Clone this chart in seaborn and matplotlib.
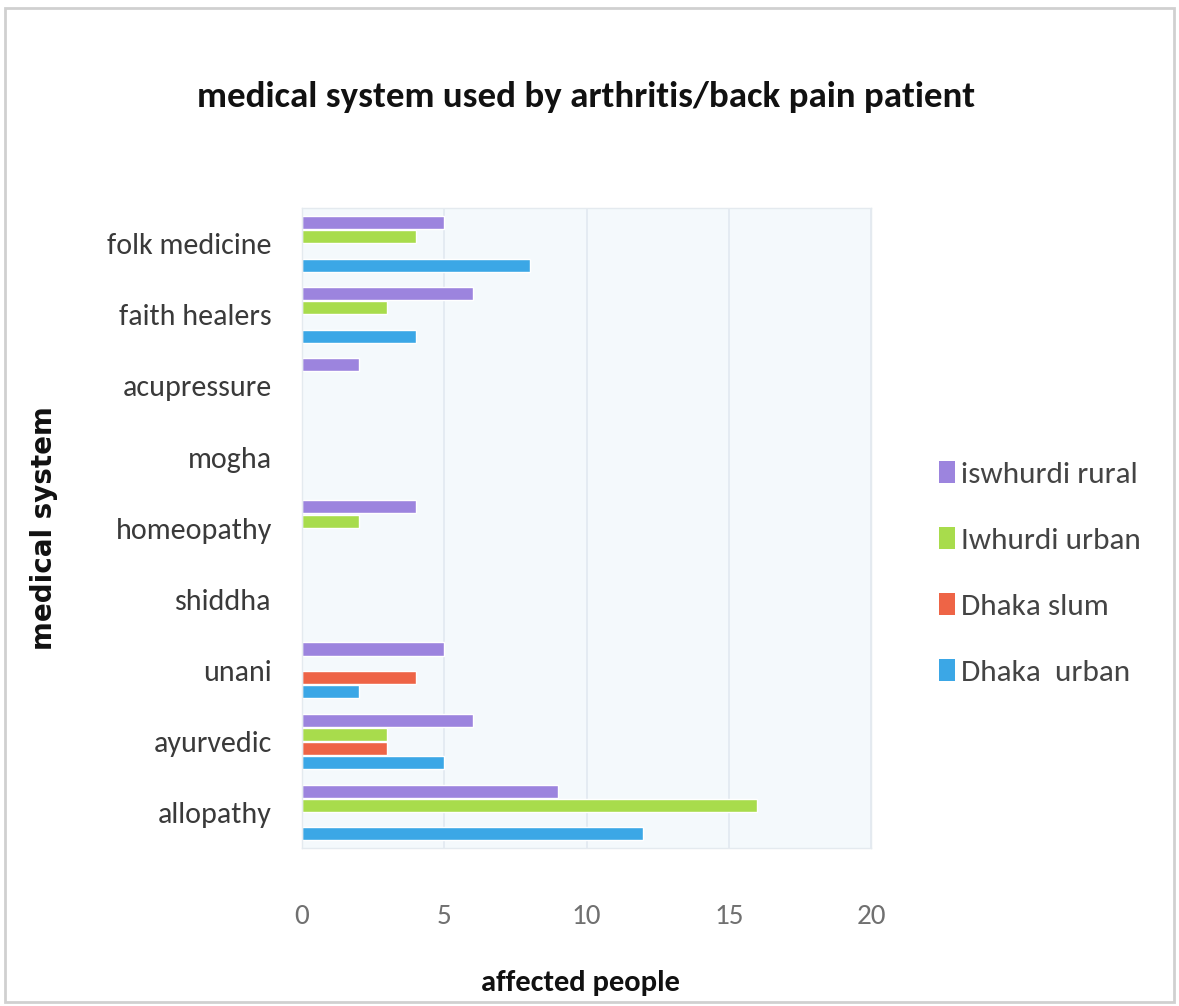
import matplotlib
matplotlib.use("Agg")
import matplotlib.pyplot as plt
from matplotlib.patches import Rectangle
import seaborn as sns
import pandas as pd

categories = ["folk medicine", "faith healers", "acupressure", "mogha",
              "homeopathy", "shiddha", "unani", "ayurvedic", "allopathy"]
series = ["iswhurdi rural", "Iwhurdi urban", "Dhaka slum", "Dhaka  urban"]
iswhurdi_rural = [5, 6, 2, 0, 4, 0, 5, 6, 9]
iwhurdi_urban = [4, 3, 0, 0, 2, 0, 0, 3, 16]
dhaka_slum = [0, 0, 0, 0, 0, 0, 4, 3, 0]
dhaka_urban = [8, 4, 0, 0, 0, 0, 2, 5, 12]
x_ticks = [0, 5, 10, 15, 20]

colors = ["#9c84de", "#a8dc4c", "#ee6446", "#3ba7e6"]

rows = []
for name, vals in zip(series, [iswhurdi_rural, iwhurdi_urban, dhaka_slum, dhaka_urban]):
    for cat, v in zip(categories, vals):
        rows.append({"system": cat, "group": name, "people": v})
df = pd.DataFrame(rows)

sns.set_theme(style="white")
plt.rcParams["font.family"] = ["Carlito", "DejaVu Sans"]

fig = plt.figure(figsize=(11.79, 10.06), dpi=100)
fig.patches.append(Rectangle((0.004, 0.004), 0.992, 0.988, transform=fig.transFigure,
                             fill=False, edgecolor="#d0d0d0", linewidth=2))
ax = fig.add_axes([0.256, 0.157, 0.483, 0.636])
ax.set_facecolor("#f4f9fc")

sns.barplot(data=df, y="system", x="people", hue="group", order=categories,
            hue_order=series, palette=colors, orient="h", width=0.8, gap=0.08,
            saturation=1, ax=ax, legend=False)

ax.set_xlim(0, 20)
ax.set_xticks(x_ticks)
ax.set_xticklabels([str(t) for t in x_ticks], fontsize=21, color="#707070")
ax.tick_params(axis="y", labelsize=21.6, labelcolor="#3a3a3a", length=0, pad=21.5)
ax.tick_params(axis="x", length=0, pad=40)
ax.xaxis.grid(True, color="#e1e9f0", linewidth=1.2)
ax.set_axisbelow(True)
for s in ax.spines.values():
    s.set_color("#e4eaef")
    s.set_linewidth(1)

ax.set_ylabel("medical system", fontsize=20, fontweight="bold", color="#111111",
              family=["DejaVu Sans"])
ax.set_xlabel("affected people", fontsize=22, fontweight="bold", color="#111111")
ax.xaxis.set_label_coords(0.49, -0.19)
ax.yaxis.set_label_coords(-0.428, 0.5)

fig.text(0.497, 0.904, "medical system used by arthritis/back pain patient",
         ha="center", va="center", fontsize=26.6, fontweight="bold", color="#111111")

handles = [Rectangle((0, 0), 1, 1, facecolor=c, edgecolor="none") for c in colors]
leg = fig.legend(handles, series, loc="center left", bbox_to_anchor=(0.773, 0.43),
                 frameon=False, fontsize=22.5, labelspacing=1.25, handlelength=0.5,
                 handleheight=0.7, handletextpad=0.2)
for t in leg.get_texts():
    t.set_color("#444444")

fig.savefig("out.png", dpi=100, facecolor="white")
